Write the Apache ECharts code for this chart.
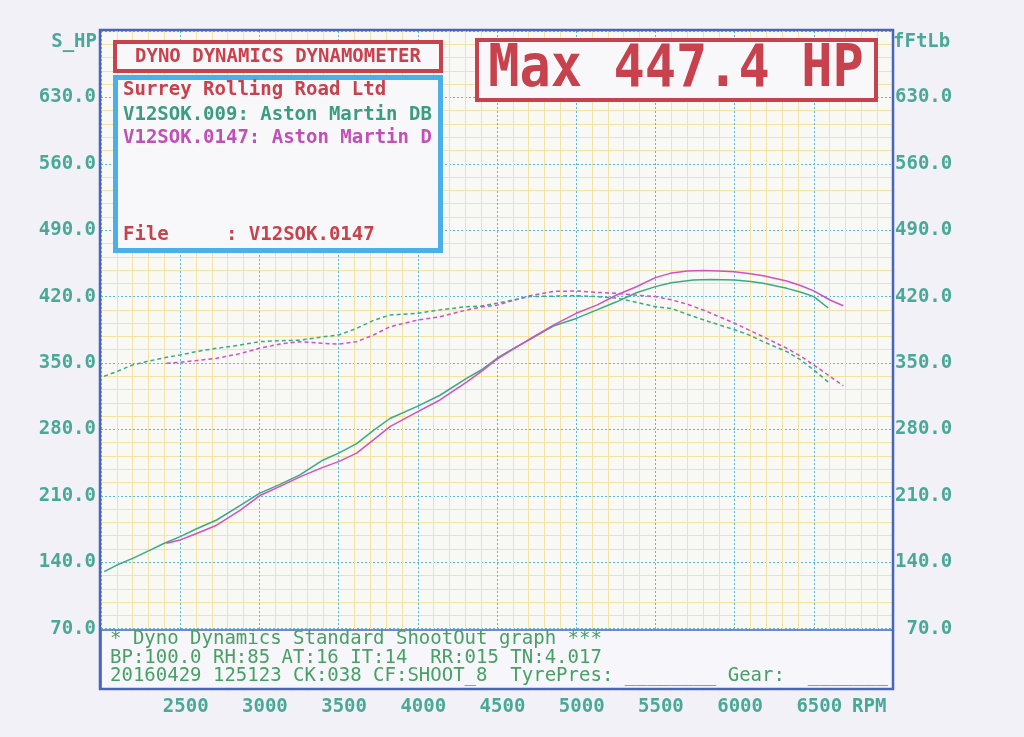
<!DOCTYPE html>
<html>
<head>
<meta charset="utf-8">
<script src="https://cdn.jsdelivr.net/npm/echarts@6/dist/echarts.min.js"></script>
<style>
html,body{margin:0;padding:0;background:#f1f1f7;}
#chart{width:1024px;height:737px;}
</style>
</head>
<body>
<div id="chart"></div>
<script>
// Run V12SOK.009 (green)
const rpm009 = [2020,2100,2200,2300,2400,2500,2600,2730,2880,3000,3130,3256,3400,3500,3614,3720,3824,4000,4140,4310,4400,4500,4605,4708,4856,5000,5130,5255,5380,5500,5600,5740,5850,6000,6100,6180,6330,6420,6500,6591];
const hp009  = [130,137,144,152,160,167,175,184.5,200,212.5,222,232,247.5,255,265,279,291.5,304.5,316,334,342.6,355,365.5,375,389,397,406,414.5,424,430.5,434.7,437.5,438,437.5,436,434,428.7,424.5,420,408];
const tq009  = [336,341,348,352,355.5,358.5,362,365.5,369,372.5,373.5,374,377.5,379.5,386.5,395,400.5,402.5,406,409.4,410,413,416.5,420,420.5,421,420,418.5,414,409.4,407.5,399,393,385,379,372.5,362,353,342.6,330];
// Run V12SOK.0147 (magenta)
const rpm0147 = [2414,2500,2600,2730,2880,3000,3130,3256,3400,3500,3614,3720,3824,4000,4140,4310,4400,4500,4605,4708,4856,5000,5130,5255,5380,5500,5593,5700,5802,5900,6000,6100,6181,6329,6420,6500,6602,6686];
const hp0147  = [160,163.5,170,179,195,210,220,230,240,246,255,269,283,298.7,311,330,341,354,365,375.3,390,402.4,411,421.7,430.4,440,444.5,447,447.4,447,446.3,444,442,436.5,431.5,426,416.4,410.4];
const tq0147  = [349.7,350.7,352.5,355,360,365.5,370,372.5,370.7,370,372.5,379.5,388.3,395.3,398.8,405.9,409,411,416,421,425.5,425.9,424.5,423.5,421.5,420,417,412,405.9,399,391.9,384,377.7,365.5,357,347.9,336,326];

const xHiddenTicks = [2000, 7000];
const yHiddenTicks = [0, 700];

// ---- Styling ----
const MONO = '"DejaVu Sans Mono", "Liberation Mono", monospace';
const TEAL = '#4aa898';
const GREEN_TXT = '#48a064';
const RED = '#c8424e';
const GREEN = '#3aaa84';
const MAGENTA = '#d050c8';
const BLUE_GRID = '#5ab4e6';
const YELLOW_GRID = '#f2e3a4';
const FRAME = '#4864bc';

function zip(x, y) { return x.map((r, i) => [r, y[i]]); }

function txt(text, x, y, color, size, align, weight, extra) {
  return Object.assign({
    type: 'text', x: x, y: y, z: 110,
    style: {
      text: text, fill: color,
      font: (weight || 'normal') + ' ' + size + 'px ' + MONO,
      align: align || 'left', textAlign: align || 'left',
      verticalAlign: 'middle', textVerticalAlign: 'middle'
    }
  }, extra || {});
}

const chart = echarts.init(document.getElementById('chart'), null, {renderer: 'canvas'});

const option = {
  backgroundColor: '#f1f1f7',
  animation: false,
  grid: {left: 101, top: 31, width: 792, height: 664, show: true, backgroundColor: '#f8f8f5', borderWidth: 0},
  xAxis: {
    type: 'value', min: 2000, max: 7000, interval: 500,
    axisLine: {show: false}, axisTick: {show: false},
    axisLabel: {
      margin: 3, color: TEAL, fontFamily: MONO, fontSize: 19, fontWeight: 'bold', padding: [0, 0, 0, 11],
      formatter: v => xHiddenTicks.includes(v) ? '' : String(v)
    },
    splitLine: {show: true, lineStyle: {color: BLUE_GRID, type: [2, 2], width: 1}},
    minorTick: {show: false, splitNumber: 5},
    minorSplitLine: {show: true, lineStyle: {color: YELLOW_GRID, width: 1}}
  },
  yAxis: [
    {
      type: 'value', min: 0, max: 700, interval: 70, position: 'left',
      axisLine: {show: false},
      axisTick: {show: true, length: 4, lineStyle: {color: BLUE_GRID, type: [2, 2]}},
      axisLabel: {
        margin: 5, color: TEAL, fontFamily: MONO, fontSize: 19, fontWeight: 'bold',
        formatter: v => yHiddenTicks.includes(v) ? '' : v.toFixed(1)
      },
      splitLine: {show: true, showMinLine: false, lineStyle: {color: BLUE_GRID, type: [2, 2], width: 1}},
      minorTick: {show: false, splitNumber: 5},
      minorSplitLine: {show: true, lineStyle: {color: YELLOW_GRID, width: 1}}
    },
    {
      type: 'value', min: 0, max: 700, interval: 70, position: 'right',
      axisLine: {show: false}, axisTick: {show: false},
      axisLabel: {
        margin: 2, color: TEAL, fontFamily: MONO, fontSize: 19, fontWeight: 'bold',
        formatter: v => yHiddenTicks.includes(v) ? '' : v.toFixed(1).padStart(5, ' ')
      },
      splitLine: {show: false}
    }
  ],
  series: [
    {name: 'HP 009', type: 'line', yAxisIndex: 0, data: zip(rpm009, hp009), showSymbol: false, z: 3,
     lineStyle: {color: GREEN, width: 1.5}},
    {name: 'HP 0147', type: 'line', yAxisIndex: 0, data: zip(rpm0147, hp0147), showSymbol: false, z: 4,
     lineStyle: {color: MAGENTA, width: 1.5}},
    {name: 'TQ 009', type: 'line', yAxisIndex: 1, data: zip(rpm009, tq009), showSymbol: false, z: 3,
     lineStyle: {color: GREEN, width: 1.5, type: [4, 3]}},
    {name: 'TQ 0147', type: 'line', yAxisIndex: 1, data: zip(rpm0147, tq0147), showSymbol: false, z: 4,
     lineStyle: {color: MAGENTA, width: 1.5, type: [4, 3]}}
  ],
  graphic: [
    {type: 'rect', z: 100, shape: {x: 95, y: 690.5, width: 805, height: 5.5}, style: {fill: '#f1f1f7'}},
    {type: 'rect', z: 100, shape: {x: 101, y: 630, width: 792, height: 59}, style: {fill: '#f7f7fb', stroke: FRAME, lineWidth: 1.5}},
    {type: 'rect', z: 105, shape: {x: 100, y: 30, width: 793, height: 659}, style: {fill: null, stroke: FRAME, lineWidth: 2.5}},
    {type: 'rect', z: 105, shape: {x: 115, y: 42, width: 326, height: 29}, style: {fill: '#f8f8fb', stroke: RED, lineWidth: 4}},
    {type: 'rect', z: 105, shape: {x: 115.5, y: 77.5, width: 325, height: 173}, style: {fill: '#f8f8fb', stroke: '#4cb0e8', lineWidth: 5}},
    {type: 'rect', z: 105, shape: {x: 477, y: 40, width: 399, height: 60}, style: {fill: '#f8f8fb', stroke: RED, lineWidth: 4}},
    txt('DYNO DYNAMICS DYNAMOMETER', 278, 57, RED, 19, 'center', 'bold'),
    txt('Surrey Rolling Road Ltd', 123, 90, RED, 19, 'left', 'bold'),
    txt('V12SOK.009: Aston Martin DB', 123, 115, '#3a9c80', 19, 'left', 'bold'),
    txt('V12SOK.0147: Aston Martin D', 123, 138, '#c050b8', 19, 'left', 'bold'),
    txt('File     : V12SOK.0147', 123, 235, RED, 19, 'left', 'bold'),
    txt('Max 447.4 HP', 676, 71, RED, 52, 'center', 'bold', {scaleY: 1.12}),
    txt('S_HP', 97, 42, TEAL, 19, 'right', 'bold'),
    txt('fFtLb', 893, 42, TEAL, 19, 'left', 'bold'),
    txt('* Dyno Dynamics Standard ShootOut graph ***', 110, 639, GREEN_TXT, 19),
    txt('BP:100.0 RH:85 AT:16 IT:14  RR:015 TN:4.017', 110, 658, GREEN_TXT, 19),
    txt('20160429 125123 CK:038 CF:SHOOT_8  TyrePres: ________ Gear:  _______', 110, 676, GREEN_TXT, 19),
    txt('RPM', 852, 707, TEAL, 19, 'left', 'bold')
  ]
};
chart.setOption(option);
</script>
</body>
</html>
